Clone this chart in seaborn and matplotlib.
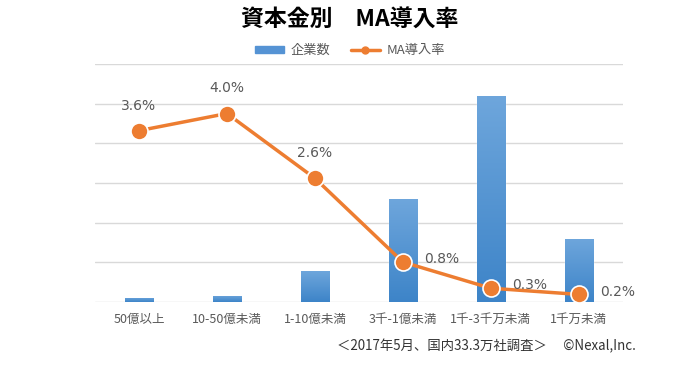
import numpy as np
import pandas as pd
import matplotlib.pyplot as plt
import seaborn as sns
from matplotlib.colors import LinearSegmentedColormap
from matplotlib.patches import Patch
from matplotlib.lines import Line2D

# data
categories = ["50億以上", "10-50億未満", "1-10億未満", "3千-1億未満", "1千-3千万未満", "1千万未満"]
companies = [3500, 5000, 25000, 83000, 166000, 51000]
ma_rate = [3.6, 3.96, 2.6, 0.84, 0.29, 0.16]
label_side = ["top", "top", "top", "right", "right", "right"]

df = pd.DataFrame({"cat": categories, "companies": companies, "rate": ma_rate})

sns.set_theme(style="white")
plt.rcParams['font.family'] = ['Noto Sans CJK JP', 'DejaVu Sans']

gray = "#595959"
blue = "#5593d4"
orange = "#ed7d31"
grad = LinearSegmentedColormap.from_list("barblue", ["#3d84c8", "#6ea6dc"])

fig = plt.figure(figsize=(7, 3.67), dpi=100)
ax = fig.add_axes([0.1357, 0.177, 0.754, 0.6486])

sns.barplot(data=df, x="cat", y="companies", color=blue, width=0.32,
            saturation=1, ax=ax, zorder=2)
ax.set_ylim(0, 192000)
ax.set_yticks(range(0, 192001, 32000))
ax.yaxis.grid(True, color="#d9d9d9", linewidth=1)
ax.set_axisbelow(True)
ax.set_yticklabels([])
ax.tick_params(axis="y", length=0)
ax.tick_params(axis="x", length=0, colors=gray, labelsize=9, pad=8)
ax.set_xlabel("")
ax.set_ylabel("")
for s in ax.spines.values():
    s.set_visible(False)
ax.set_xlim(-0.5, len(categories) - 0.5)

# vertical gradient fill on each bar
g = np.linspace(0, 1, 256).reshape(-1, 1)
for bar in ax.patches:
    x0, y0 = bar.get_x(), bar.get_y()
    w, h = bar.get_width(), bar.get_height()
    im = ax.imshow(g, cmap=grad, aspect="auto", origin="lower",
                   extent=[x0, x0 + w, y0, y0 + h], zorder=2.1)
    im.set_clip_path(bar)
ax.set_xlim(-0.5, len(categories) - 0.5)
ax.set_ylim(0, 192000)

ax2 = ax.twinx()
ax2.plot(df["cat"], df["rate"], color=orange, linewidth=2.5, zorder=3)
sns.scatterplot(data=df, x="cat", y="rate", ax=ax2, color=orange, s=150,
                edgecolor="white", linewidth=1.2, zorder=4, legend=False)
ax2.set_ylim(0, 5)
ax2.set_yticks([])
ax2.set_ylabel("")
for s in ax2.spines.values():
    s.set_visible(False)

for i, (r, side) in enumerate(zip(ma_rate, label_side)):
    txt = f"{r:.1f}%"
    if side == "top":
        ax2.annotate(txt, (i, r), xytext=(0, 13), textcoords="offset points",
                     ha="center", va="bottom", color=gray, fontsize=10,
                     family="DejaVu Sans")
    else:
        ax2.annotate(txt, (i, r), xytext=(15, 2), textcoords="offset points",
                     ha="left", va="center", color=gray, fontsize=10,
                     family="DejaVu Sans")

fig.text(0.5, 0.945, "資本金別　MA導入率", ha="center", va="center",
         fontsize=16.5, fontweight="bold", color="black")

# legend
handles = [Patch(color=blue, label="企業数"),
           Line2D([0], [0], color=orange, lw=2.5, marker="o", markersize=5,
                  label="MA導入率")]
fig.legend(handles=handles, loc="center", bbox_to_anchor=(0.5, 0.862), ncol=2,
           frameon=False, fontsize=9.5, labelcolor=gray, handlelength=2.2,
           handleheight=0.4, columnspacing=1.5, handletextpad=0.5)

fig.text(0.908, 0.058, "＜2017年5月、国内33.3万社調査＞　 ©Nexal,Inc.",
         ha="right", va="center", fontsize=9.6, color="#333333")

fig.savefig("out.png", dpi=100, facecolor="white")
